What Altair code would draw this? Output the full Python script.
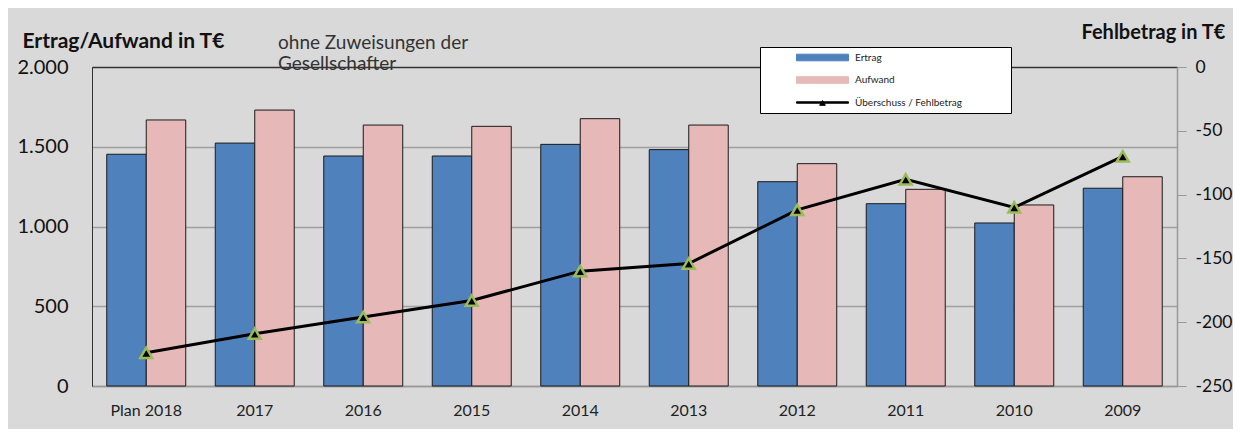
import altair as alt
import pandas as pd

years = ["Plan 2018", "2017", "2016", "2015", "2014", "2013", "2012", "2011", "2010", "2009"]
ertrag = [1453, 1523, 1442, 1442, 1515, 1482, 1281, 1143, 1022, 1240]
aufwand = [1668, 1730, 1636, 1628, 1676, 1636, 1394, 1233, 1135, 1312]
fehlbetrag = [-224, -209, -196, -183, -160, -154, -112, -88, -110, -70]
series = ["Ertrag", "Aufwand", "Überschuss / Fehlbetrag"]
left_ticks = [0, 500, 1000, 1500, 2000]
right_ticks = [0, -50, -100, -150, -200, -250]
title_left = "Ertrag/Aufwand in T€"
title_right = "Fehlbetrag in T€"
note = ["ohne Zuweisungen der", "Gesellschafter"]

FONT = "Lato"

bars_df = pd.DataFrame(
    [{"year": y, "series": series[0], "value": v} for y, v in zip(years, ertrag)]
    + [{"year": y, "series": series[1], "value": v} for y, v in zip(years, aufwand)]
)
line_df = pd.DataFrame({"year": years, "fb": fehlbetrag, "series": series[2]})
legend_df = pd.DataFrame({"series": series})

rect_path = "M-2.6,-0.33H2.6V0.33H-2.6Z"
line_path = "M-2.6,-0.07H2.6V0.07H-2.6Z M-0.28,0.28L0,-0.2L0.28,0.28Z"

color_scale = alt.Scale(domain=series, range=["#4F81BD", "#E6B9B8", "#000000"])
shape_scale = alt.Scale(domain=series, range=[rect_path, rect_path, line_path])

legend = alt.Legend(
    title=" ",
    titleOrient="bottom",
    titleFontSize=5,
    titlePadding=0,
    orient="none",
    legendX=668,
    legendY=-20,
    fillColor="white",
    strokeColor="black",
    padding=0,
    symbolSize=400,
    symbolStrokeColor="#1a1a1a",
    symbolStrokeWidth=1,
    symbolOpacity=1,
    symbolOffset=52,
    labelOffset=22,
    labelExpr="datum.label + '\u2800\u2800\u2800\u2800\u2800\u2800\u2800'",
    labelFont=FONT,
    labelFontSize=10,
    labelFontWeight="normal",
    labelColor="#222222",
    labelLimit=300,
    rowPadding=6.5,
)

x_enc = alt.X(
    "year:N",
    sort=years,
    scale=alt.Scale(domain=years, paddingInner=0.272, paddingOuter=0.136),
    axis=alt.Axis(
        title=None,
        ticks=False,
        domainColor="#999999",
        domainWidth=1.5,
        labelFont=FONT,
        labelFontSize=16,
        labelFontWeight="normal",
        labelColor="#222222",
        labelPadding=16,
        labelAngle=0,
    ),
)

bars = alt.Chart(bars_df).mark_bar(stroke="#1a1a1a", strokeWidth=1).encode(
    x=x_enc,
    xOffset=alt.XOffset("series:N", scale=alt.Scale(domain=series[:2], paddingInner=0, paddingOuter=0)),
    y=alt.Y(
        "value:Q",
        scale=alt.Scale(domain=[0, 2000], nice=False),
        axis=alt.Axis(
            values=left_ticks,
            labelExpr="replace(format(datum.value, ','), ',', '.')",
            grid=True,
            gridColor={"condition": {"test": "datum.value === 2000", "value": "#333333"}, "value": "#A0A0A0"},
            gridWidth=1.5,
            ticks=False,
            domainColor="#333333",
            labelFont=FONT,
            labelFontSize=20,
            labelColor="#111111",
            labelPadding=24,
            labelFlush=False,
            title=title_left,
            titleAngle=0,
            titleAlign="left",
            titleBaseline="middle",
            titleX=-70,
            titleY=-26,
            titleFont=FONT,
            titleFontSize=21,
            titleFontWeight="bold",
            titleColor="#111111",
        ),
    ),
    color=alt.Color("series:N", scale=color_scale, legend=legend),
)

y_right = alt.Y(
    "fb:Q",
    scale=alt.Scale(domain=[-250, 0], nice=False),
    axis=alt.Axis(
        orient="right",
        values=right_ticks,
        labelExpr="datum.value < 0 ? '-' + abs(datum.value) : '' + datum.value",
        grid=False,
        tickSize=9,
        tickColor="#999999",
        domainColor="#999999",
        domainWidth=1.5,
        labelFont=FONT,
        labelFontSize=17.5,
        labelColor="#111111",
        labelPadding=9,
        labelFlush=False,
        title=title_right,
        titleAngle=0,
        titleAlign="left",
        titleBaseline="middle",
        titleX=-96,
        titleY=-35,
        titleFont=FONT,
        titleFontSize=20,
        titleFontWeight="bold",
        titleColor="#111111",
    ),
)

line = alt.Chart(line_df).mark_line(strokeWidth=3).encode(
    x=alt.X("year:N", sort=years),
    y=y_right,
    color=alt.Color("series:N", scale=color_scale, legend=legend),
)

points = alt.Chart(line_df).mark_point(
    shape="triangle-up", filled=True, fill="black", stroke="#9BBB59", strokeWidth=2.5, size=140, opacity=1
).encode(
    x=alt.X("year:N", sort=years),
    y=alt.Y("fb:Q"),
)

legend_layer = alt.Chart(legend_df).mark_point(filled=True, opacity=0).encode(
    color=alt.Color("series:N", scale=color_scale, legend=legend),
    shape=alt.Shape("series:N", scale=shape_scale, legend=legend),
)

right = alt.layer(line, points, legend_layer)

chart = (
    alt.layer(bars, right)
    .resolve_scale(y="independent")
    .properties(
        width=1085,
        height=319,
        background="#D9D9D9",
        padding={"left": 84, "top": 59, "right": 56, "bottom": 43},
        autosize=alt.AutoSizeParams(type="none"),
        title=alt.TitleParams(
            note,
            anchor="start",
            frame="group",
            dx=186,
            dy=56,
            baseline="top",
            font=FONT,
            fontSize=19,
            fontWeight="normal",
            color="#333333",
            lineHeight=21,
        ),
    )
    .configure_view(stroke="#333333", strokeWidth=1)
)

chart.save("out.html", embed_options={"renderer": "svg", "actions": False})
